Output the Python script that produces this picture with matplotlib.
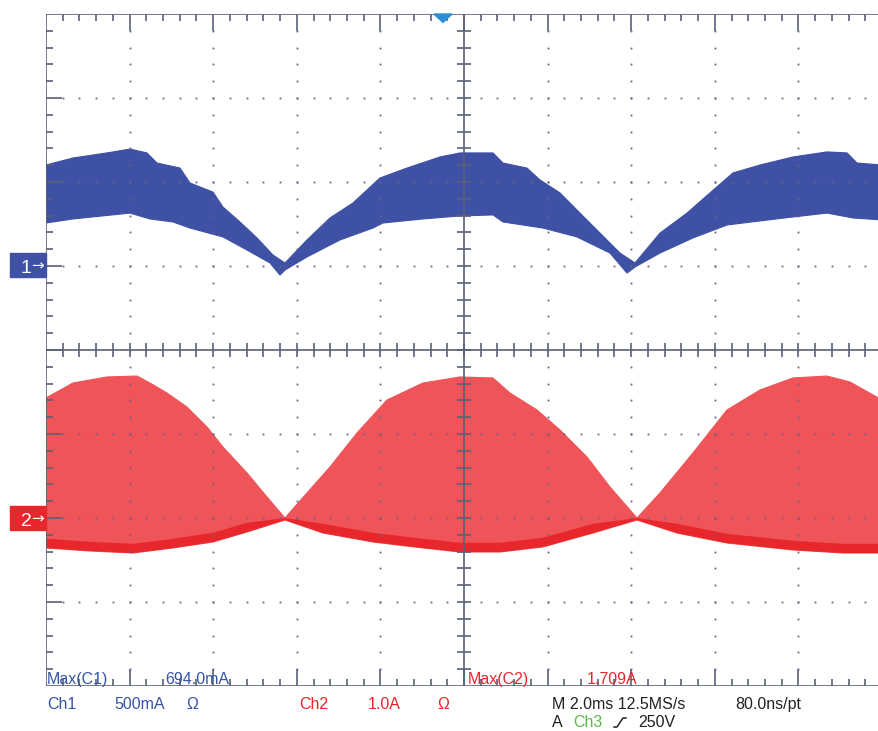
import numpy as np
import matplotlib.pyplot as plt
from matplotlib.patches import Rectangle, Polygon
from matplotlib.lines import Line2D

W, H = 879, 731

# scope settings
time_per_div = 2.0      # ms/div
ch1_per_div = 0.5       # A/div
ch1_pos = 1.0           # div
ch2_per_div = 1.0       # A/div
ch2_pos = -2.0          # div

# Ch1 envelope (time ms, current A)
ch1_top_t = [0.0, 0.646, 1.459, 2.010, 2.416, 2.656, 3.206, 3.445, 3.995, 4.234, 4.641, 5.048, 5.431, 5.718,
             6.244, 6.794, 7.344, 7.990, 8.636, 9.426, 9.904, 10.694, 10.933, 11.507, 11.818, 12.297,
             12.703, 13.254, 13.732, 14.091, 14.689, 15.335, 15.885, 16.435, 17.081, 17.871, 18.684,
             19.163, 19.402, 20.0]
ch1_top_a = [0.601, 0.643, 0.673, 0.696, 0.673, 0.613, 0.583, 0.494, 0.440, 0.351, 0.262, 0.167, 0.065, 0.018,
             0.155, 0.286, 0.375, 0.524, 0.583, 0.649, 0.673, 0.673, 0.613, 0.583, 0.512, 0.435,
             0.333, 0.196, 0.077, 0.018, 0.196, 0.315, 0.435, 0.554, 0.601, 0.649, 0.679,
             0.673, 0.613, 0.601]
ch1_bot_t = [0.0, 0.646, 2.010, 2.488, 3.038, 3.445, 4.234, 4.809, 5.359, 5.598, 5.718, 6.244, 7.033, 7.823,
             8.062, 9.019, 9.904, 10.694, 10.933, 11.890, 12.703, 13.493, 13.900, 14.091, 14.689, 15.478,
             16.292, 16.675, 17.871, 18.684, 19.306, 20.0]
ch1_bot_a = [0.256, 0.280, 0.315, 0.280, 0.262, 0.226, 0.173, 0.095, 0.018, -0.054, -0.024, 0.054, 0.155, 0.226,
             0.256, 0.280, 0.298, 0.304, 0.262, 0.226, 0.173, 0.077, -0.042, -0.006, 0.077, 0.167,
             0.244, 0.256, 0.292, 0.315, 0.286, 0.274]

# Ch2 envelope (time ms, current A)
ch2_top_t = [0.0, 0.646, 1.459, 2.177, 2.488, 2.895, 3.373, 3.852, 4.234, 4.809, 5.287, 5.718, 6.244, 6.794,
             7.440, 8.158, 9.019, 9.904, 10.694, 11.100, 11.746, 12.297, 12.943, 13.493, 14.139, 14.689,
             15.478, 16.292, 17.081, 17.871, 18.684, 19.234, 20.0]
ch2_top_a = [1.429, 1.607, 1.679, 1.690, 1.607, 1.488, 1.321, 1.083, 0.845, 0.536, 0.250, 0.0, 0.298, 0.607,
             1.012, 1.405, 1.607, 1.679, 1.667, 1.488, 1.286, 1.048, 0.726, 0.369, 0.0, 0.298,
             0.774, 1.286, 1.524, 1.667, 1.690, 1.619, 1.405]
ch2_bot_t = [0.0, 1.053, 2.081, 3.038, 3.995, 4.809, 5.718, 6.627, 7.823, 9.019, 9.904, 10.861, 11.890,
             13.086, 14.139, 15.096, 16.292, 17.871, 19.067, 20.0]
ch2_bot_a = [-0.357, -0.393, -0.417, -0.357, -0.286, -0.167, -0.024, -0.179, -0.286, -0.357, -0.405, -0.405,
             -0.345, -0.179, -0.024, -0.179, -0.298, -0.381, -0.417, -0.417]

BLUE = '#3f51a4'
RED = '#ef5558'
RED_DARK = '#e8272c'
GRID = '#5a6079'
TXT_BLUE = '#3553a8'
TXT_RED = '#e8262b'

fig = plt.figure(figsize=(W / 100, H / 100), dpi=100)
ax = fig.add_axes([46 / W, (H - 686) / H, 836 / W, 672 / H])
ax.set_xlim(0, 10)
ax.set_ylim(-4, 4)
ax.axis('off')


def to_div(t, a, per_div, pos):
    return np.asarray(t) / time_per_div, np.asarray(a) / per_div + pos


# channel 1
xt, yt = to_div(ch1_top_t, ch1_top_a, ch1_per_div, ch1_pos)
xb, yb = to_div(ch1_bot_t, ch1_bot_a, ch1_per_div, ch1_pos)
ax.fill(np.r_[xt, xb[::-1]], np.r_[yt, yb[::-1]], color=BLUE, lw=0.8, zorder=2)

# channel 2
xt, yt = to_div(ch2_top_t, ch2_top_a, ch2_per_div, ch2_pos)
xb, yb = to_div(ch2_bot_t, ch2_bot_a, ch2_per_div, ch2_pos)
ax.fill(np.r_[xt, xb[::-1]], np.r_[yt, yb[::-1]], color=RED, lw=0.8, zorder=2)
band = np.minimum(yb + 0.11, np.interp(xb, xt, yt))
ax.fill(np.r_[xb, xb[::-1]], np.r_[yb, band[::-1]], color=RED_DARK, lw=0, zorder=2)

# graticule
lw = 1.2
kw = dict(color=GRID, lw=lw, zorder=5, solid_capstyle='butt')
ax.plot([0, 0], [-4, 4], **kw)
ax.plot([0, 10], [4, 4], **kw)
ax.plot([0, 10], [-4, -4], **kw)
ax.plot([5, 5], [-4, 4], **kw)
ax.plot([0, 10], [0, 0], **kw)
mn, mj = 0.085, 0.205
for x in np.arange(0.2, 10, 0.2):
    x = round(x, 1)
    major = abs(x - round(x)) < 1e-6
    L = mj if major else mn
    ax.plot([x, x], [4, 4 - L], **kw)
    ax.plot([x, x], [-4, -4 + L], **kw)
    ax.plot([x, x], [-mn, mn], **kw)
for y in np.arange(-3.8, 4, 0.2):
    y = round(y, 1)
    major = abs(y - round(y)) < 1e-6
    L = mj if major else mn
    ax.plot([0, L * 0.95], [y, y], **kw)
    ax.plot([5 - mn * 0.95, 5 + mn * 0.95], [y, y], **kw)
dots_x, dots_y = [], []
for gx in [1, 2, 3, 4, 6, 7, 8, 9]:
    for y in np.arange(-3.8, 4, 0.2):
        dots_x.append(gx)
        dots_y.append(y)
for gy in [-3, -2, -1, 1, 2, 3]:
    for x in np.arange(0.2, 10, 0.2):
        dots_x.append(x)
        dots_y.append(gy)
ax.plot(dots_x, dots_y, 's', color='#5f6585', ms=1.3, mew=0, zorder=5)

# trigger position marker
tx = (443 - 46) / 83.6
ax.add_patch(Polygon([[tx - 0.11, 4], [tx + 0.11, 4], [tx, 3.9]], closed=True,
                     color='#2b8fd8', zorder=6, clip_on=False))


def px(x, y):
    return x / W, 1 - y / H


# channel markers
for lab, yy, col in [('1', 265, BLUE), ('2', 518, '#e8262b')]:
    fig.patches.append(Rectangle(px(10, yy + 12), 36 / W, 24 / H, transform=fig.transFigure,
                                 color=col, zorder=6))
    fig.text(*px(21, yy + 8), lab, color='white', fontsize=14, family='Liberation Sans',
             va='baseline', zorder=7)
    fig.text(*px(31, yy + 5), '\u2192', color='white', fontsize=11, family='DejaVu Sans',
             va='baseline', zorder=7)

FONT = ['Liberation Sans', 'DejaVu Sans']
texts = [
    (47, 684, 'Max(C1)', TXT_BLUE),
    (165, 684, '694.0mA', TXT_BLUE),
    (468, 684, 'Max(C2)', TXT_RED),
    (587, 684, '1.709A', TXT_RED),
    (47, 709, 'Ch1', TXT_BLUE),
    (114, 709, '500mA', TXT_BLUE),
    (186, 709, '\u03a9', TXT_BLUE),
    (299, 709, 'Ch2', TXT_RED),
    (368, 709, '1.0A', TXT_RED),
    (437, 709, '\u03a9', TXT_RED),
    (552, 709, 'M 2.0ms 12.5MS/s', '#222222'),
    (735, 709, '80.0ns/pt', '#222222'),
    (552, 727, 'A', '#222222'),
    (573, 727, 'Ch3', '#5cb84a'),
    (638, 727, '250V', '#222222'),
]
for x, y, s, c in texts:
    fig.text(*px(x, y), s, color=c, fontsize=11.5, family=FONT, va='baseline', zorder=8)

# trigger slope symbol
sx = [614 / W, 617 / W, 623 / W, 626 / W]
sy = [1 - 727 / H, 1 - 727 / H, 1 - 718 / H, 1 - 718 / H]
fig.lines.append(Line2D(sx, sy, transform=fig.transFigure, color='#222222', lw=1.1))

fig.savefig('out.png', dpi=100)
